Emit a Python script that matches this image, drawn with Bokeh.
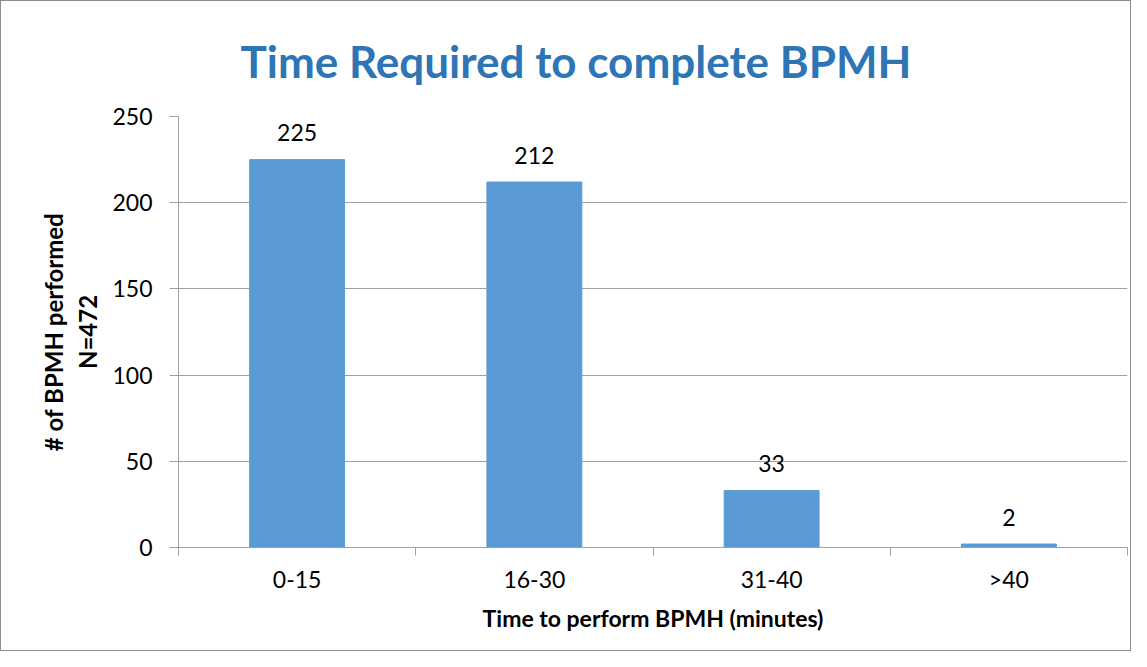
from bokeh.plotting import figure
from bokeh.models import ColumnDataSource, FixedTicker, LabelSet, Range1d
from bokeh.core.properties import value
from bokeh.embed import file_html
from bokeh.resources import INLINE

categories = ["0-15", "16-30", "31-40", ">40"]
counts = [225, 212, 33, 2]
y_ticks = [0, 50, 100, 150, 200, 250]

title_text = "Time Required to complete BPMH"
x_label = "Time to perform BPMH (minutes)"
y_label = "# of BPMH performed\nN=472"

FONT = "Lato"
GRAY = "#A0A0A0"
BAR = "#5B9BD5"

x_pos = [i + 0.5 for i in range(len(categories))]
src = ColumnDataSource(dict(x=x_pos, top=counts, label=[str(c) for c in counts]))

p = figure(width=1131, height=651, output_backend="svg", toolbar_location=None,
           x_range=Range1d(0, len(categories)), y_range=Range1d(0, 250),
           min_border_left=177, min_border_right=5, min_border_top=115,
           min_border_bottom=105)
p.styles = {"border": "1px solid #8c8c8c", "box-sizing": "border-box"}

p.vbar(x="x", top="top", width=0.4, source=src, fill_color=BAR, line_color=BAR)

labels = LabelSet(x="x", y="top", text="label", source=src, text_align="center",
                  text_baseline="middle", y_offset=27, text_font=value(FONT),
                  text_font_size=value("23px"), text_color="black")
p.add_layout(labels)

# title
p.title.text = title_text
p.title.align = "left"
p.title.offset = 62
p.title.text_font = FONT
p.title.text_font_size = "44px"
p.title.text_font_style = "bold"
p.title.text_color = "#2E75B6"
p.title.standoff = 59

p.outline_line_color = None
p.xgrid.visible = False
p.ygrid.ticker = FixedTicker(ticks=y_ticks)
p.ygrid.grid_line_color = GRAY
p.ygrid.grid_line_width = 1

# x axis
xa = p.xaxis[0]
xa.ticker = FixedTicker(ticks=x_pos, minor_ticks=list(range(len(categories) + 1)))
xa.major_label_overrides = {x: c for x, c in zip(x_pos, categories)}
xa.major_tick_out = 0
xa.major_tick_in = 0
xa.minor_tick_out = 8
xa.minor_tick_in = 0
xa.minor_tick_line_color = GRAY
xa.axis_line_color = GRAY
xa.major_label_text_font = FONT
xa.major_label_text_font_size = "23px"
xa.major_label_text_color = "black"
xa.major_label_standoff = 9
xa.axis_label = x_label
xa.axis_label_text_font = FONT
xa.axis_label_text_font_size = "23px"
xa.axis_label_text_font_style = "bold"
xa.axis_label_text_color = "black"
xa.axis_label_standoff = 8

# y axis
ya = p.yaxis[0]
ya.ticker = FixedTicker(ticks=y_ticks)
ya.major_tick_out = 9
ya.major_tick_in = 0
ya.major_tick_line_color = GRAY
ya.minor_tick_line_color = None
ya.axis_line_color = GRAY
ya.major_label_text_font = FONT
ya.major_label_text_font_size = "23px"
ya.major_label_text_color = "black"
ya.major_label_standoff = 17
ya.axis_label = y_label
ya.axis_label_text_font = FONT
ya.axis_label_text_font_size = "24px"
ya.axis_label_text_font_style = "bold"
ya.axis_label_text_color = "black"
ya.axis_label_standoff = 7

open("out.html", "w").write(file_html(p, INLINE))
